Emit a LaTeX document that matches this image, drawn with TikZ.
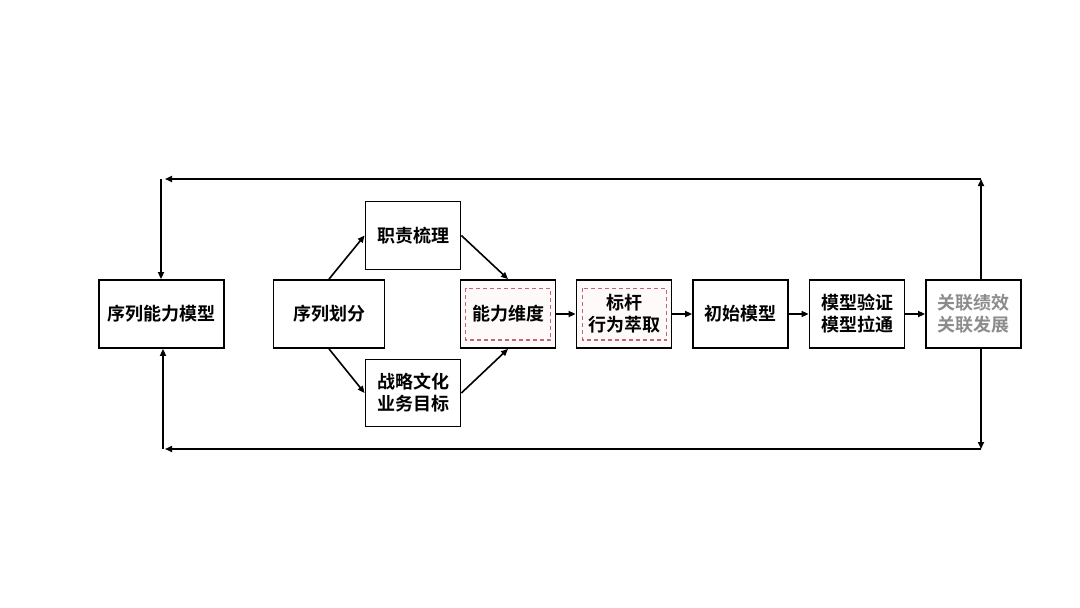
\documentclass[tikz,border=0pt]{standalone}
\usepackage{fontspec}
\setmainfont{Noto Sans CJK SC}[BoldFont={Noto Sans CJK SC Bold}]
\usetikzlibrary{arrows.meta}
\definecolor{dashred}{HTML}{C06878}
\definecolor{graytext}{HTML}{8C8C8C}
\tikzset{
  box/.style={draw=black, line width=1.8pt, fill=white, minimum height=68pt, minimum width=95pt,
    inner sep=0pt, align=center, font=\fontsize{18pt}{22pt}\selectfont\bfseries},
  arr/.style={line width=1.6pt, -{Triangle[length=7pt,width=6pt]}},
  inner/.style={draw=dashred, line width=1.2pt, dash pattern=on 4pt off 3pt}
}
\begin{document}
\begin{tikzpicture}[x=1pt,y=-1pt]
\fill[white] (0,0) rectangle (1080,608);
\useasboundingbox (0,0) rectangle (1080,608);
\node[box, minimum width=125pt] (A) at (161.5,314) {序列能力模型};
\node[box, minimum width=111pt] (B) at (329,314) {序列划分};
\node[box] (C) at (413,235.5) {职责梳理};
\node[box, minimum height=67pt] (D) at (413,393) {战略文化\\业务目标};
\node[box, fill=red!2] (E) at (508,314) {能力维度};
\node[box, fill=red!2] (F) at (624,314) {标杆\\行为萃取};
\node[box] (G) at (740.5,314) {初始模型};
\node[box] (H) at (857,314) {模型验证\\模型拉通};
\node[box, text=graytext] (I) at (973.5,314) {关联绩效\\关联发展};
\draw[inner] ([shift={(6,9)}]E.north west) rectangle ([shift={(-6,-9)}]E.south east);
\draw[inner] ([shift={(7,9)}]F.north west) rectangle ([shift={(-6,-9)}]F.south east);
\draw[arr] (B.north) -- (C.west);
\draw[arr] (B.south) -- (D.west);
\draw[arr] (C.east) -- (E.north);
\draw[arr] (D.east) -- (E.south);
\draw[arr] (E) -- (F);
\draw[arr] (F) -- (G);
\draw[arr] (G) -- (H);
\draw[arr] (H) -- (I);
\coordinate (tr) at (981,179);
\coordinate (tl) at (161,179);
\coordinate (br) at (981,449);
\coordinate (bl) at (163,449);
\draw[arr] (I.north -| tr) -- (tr);
\draw[arr] (tr) -- ([xshift=4pt]tl);
\draw[arr] (tl) -- (A.north -| tl);
\draw[arr] (I.south -| br) -- (br);
\draw[arr] (br) -- ([xshift=2pt]bl);
\draw[arr] (bl) -- (A.south -| bl);
\end{tikzpicture}
\end{document}
